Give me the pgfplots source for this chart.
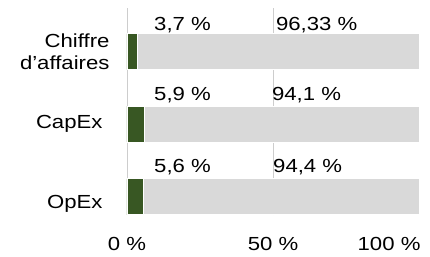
\documentclass[border=0pt]{standalone}
\usepackage{fontspec}
\setmainfont{Liberation Sans}[FakeStretch=1.17]
\usepackage{pgfplots}
\pgfplotsset{compat=1.18}
\definecolor{bargreen}{RGB}{56,87,35}
\definecolor{bargray}{RGB}{217,217,217}
\definecolor{gridgray}{RGB}{205,205,205}
\tikzset{dlab/.style={anchor=west, inner sep=0pt, font=\fontsize{19}{22.5}\selectfont}}
\begin{document}
\begin{tikzpicture}
\useasboundingbox (-127bp,-42bp) rectangle (303bp,215bp);
\begin{axis}[
  at={(0,0)}, anchor=south west,
  scale only axis, width=292bp, height=207bp,
  xbar stacked, bar width=36bp,
  xmin=0, xmax=100, ymin=-0.25, ymax=2.6,
  ytick={0,1,2}, yticklabels={{\raisebox{-7bp}[\height][\depth]{OpEx}\kern7bp}, {CapEx\kern7bp}, {Chiffre\\d’affaires}},
  yticklabel style={align=right, font=\fontsize{19}{22.5}\selectfont, xshift=-14bp},
  xtick={0,50}, xticklabels={0 \%, 50 \%},
  xticklabel style={font=\fontsize{19}{22.5}\selectfont, yshift=-19bp},
  extra x ticks={100}, extra x tick labels={100 \%},
  extra x tick style={xticklabel style={anchor=north east, xshift=5bp}, major grid style={draw=none}},
  axis line style={draw=none}, tick style={draw=none},
  xmajorgrids, ymajorgrids=false, grid style={gridgray, line width=0.75bp},
  clip=false,
]
\addplot[fill=bargreen, draw=white, line width=0.8bp] coordinates {(5.6,0) (5.9,1) (3.7,2)};
\addplot[fill=bargray, draw=white, line width=0.8bp] coordinates {(94.4,0) (94.1,1) (96.33,2)};
\node[dlab] at (axis cs:9.25,2.37) {3,7 \%};
\node[dlab] at (axis cs:51.0,2.37) {96,33 \%};
\node[dlab] at (axis cs:9.25,1.40) {5,9 \%};
\node[dlab] at (axis cs:49.6,1.40) {94,1 \%};
\node[dlab] at (axis cs:9.25,0.41) {5,6 \%};
\node[dlab] at (axis cs:50.0,0.41) {94,4 \%};
\end{axis}
\end{tikzpicture}
\end{document}
